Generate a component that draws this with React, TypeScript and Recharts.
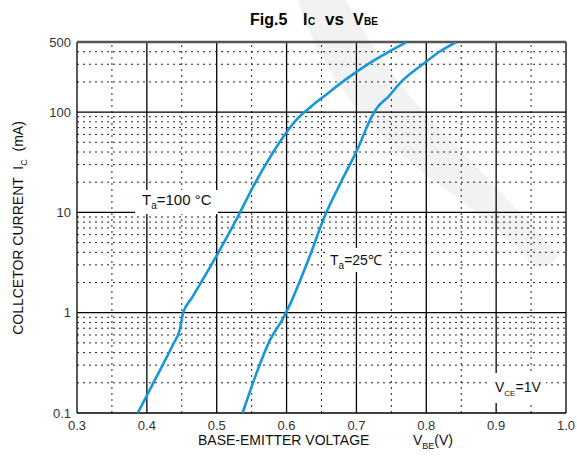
import React from "react"
import { LineChart, Line, XAxis, YAxis, ReferenceLine } from "recharts"

// Ta = 100 °C curve: [VBE (V), IC (mA)]
const ta100 = [
  { v: 0.387, i: 0.1 },
  { v: 0.414, i: 0.23 },
  { v: 0.438, i: 0.49 },
  { v: 0.447, i: 0.67 },
  { v: 0.452, i: 1.0 },
  { v: 0.464, i: 1.39 },
  { v: 0.488, i: 2.66 },
  { v: 0.529, i: 8.7 },
  { v: 0.552, i: 18 },
  { v: 0.581, i: 40 },
  { v: 0.6, i: 63 },
  { v: 0.617, i: 88 },
  { v: 0.634, i: 112 },
  { v: 0.657, i: 150 },
  { v: 0.68, i: 200 },
  { v: 0.7, i: 252 },
  { v: 0.72, i: 312 },
  { v: 0.745, i: 394 },
  { v: 0.772, i: 500 },
]

// Ta = 25 °C curve
const ta25 = [
  { v: 0.537, i: 0.1 },
  { v: 0.557, i: 0.25 },
  { v: 0.576, i: 0.53 },
  { v: 0.595, i: 0.88 },
  { v: 0.601, i: 1.06 },
  { v: 0.631, i: 3.34 },
  { v: 0.655, i: 9.3 },
  { v: 0.677, i: 19.5 },
  { v: 0.703, i: 45 },
  { v: 0.715, i: 71 },
  { v: 0.722, i: 90 },
  { v: 0.729, i: 109 },
  { v: 0.7456, i: 142 },
  { v: 0.764, i: 200 },
  { v: 0.795, i: 300 },
  { v: 0.819, i: 400 },
  { v: 0.843, i: 500 },
]

const xTicks = [0.3, 0.4, 0.5, 0.6, 0.7, 0.8, 0.9, 1.0]
const xMinor = [0.35, 0.45, 0.55, 0.65, 0.75, 0.85, 0.95]
const yTicks = [0.1, 1, 10, 100, 500]
const yMajor = [1, 10, 100]
const yMinor = [
  0.2, 0.3, 0.4, 0.5, 0.6, 0.7, 0.8, 0.9,
  2, 3, 4, 5, 6, 7, 8, 9,
  20, 30, 40, 50, 60, 70, 80, 90,
  200, 300, 400,
]

const blue = "#1697d7"
const font = '"Liberation Sans", Arial, sans-serif'

export default function App() {
  return (
    <div style={{ position: "absolute", left: 0, top: 0, width: 577, height: 457, background: "#fff", fontFamily: font }}>
      {/* faint watermark band behind the chart */}
      <svg width={577} height={457} style={{ position: "absolute", left: 0, top: 0 }}>
        <path
          d="M298,0 Q330,105 440,185 Q500,228 534,266 Q552,270 558,254 Q500,190 450,140 Q385,75 346,0 Z"
          fill="#f2f2f2"
        />
      </svg>
      <div style={{ position: "absolute", left: 0, top: 0 }}>
        <LineChart width={577} height={457} margin={{ top: 42, right: 11, bottom: 14, left: 17 }}>
          <XAxis
            type="number"
            dataKey="v"
            domain={[0.3, 1.0]}
            ticks={xTicks}
            tickFormatter={(v) => v.toFixed(1)}
            height={30}
            axisLine={false}
            tickLine={false}
            tick={{ fontSize: 13, fill: "#333", fontFamily: font }}
            allowDataOverflow
          />
          <YAxis
            type="number"
            dataKey="i"
            scale="log"
            domain={[0.1, 500]}
            ticks={yTicks}
            tickFormatter={(v) => String(v)}
            width={60}
            axisLine={false}
            tickLine={false}
            tickSize={4}
            tick={{ fontSize: 13, fill: "#333", fontFamily: font }}
            allowDataOverflow
          />
          {yMinor.map((y) => (
            <ReferenceLine key={"ym" + y} y={y} stroke="#222" strokeWidth={1} strokeDasharray="2 4" />
          ))}
          {xMinor.map((x) => (
            <ReferenceLine key={"xm" + x} x={x} stroke="#222" strokeWidth={1} strokeDasharray="2 4" />
          ))}
          {yMajor.map((y) => (
            <ReferenceLine key={"yM" + y} y={y} stroke="#000" strokeWidth={1.3} />
          ))}
          {xTicks.map((x) => (
            <ReferenceLine key={"xM" + x} x={x} stroke="#000" strokeWidth={1.3} />
          ))}
          <ReferenceLine y={0.1} stroke="#000" strokeWidth={1.5} />
          <ReferenceLine y={500} stroke="#555" strokeWidth={2.5} />
          <Line
            data={ta100}
            dataKey="i"
            type="monotone"
            stroke={blue}
            strokeWidth={2.6}
            dot={false}
            isAnimationActive={false}
          />
          <Line
            data={ta25}
            dataKey="i"
            type="monotone"
            stroke={blue}
            strokeWidth={2.6}
            dot={false}
            isAnimationActive={false}
          />
        </LineChart>
      </div>
      {/* titles and annotations */}
      <svg width={577} height={457} style={{ position: "absolute", left: 0, top: 0, pointerEvents: "none" }}>
        <g fontFamily={font} fill="#000" fontWeight="bold">
          <text x={250} y={25} fontSize={16}>Fig.5</text>
          <text x={303} y={25} fontSize={16}>I</text>
          <text x={308} y={25} fontSize={10}>C</text>
          <text x={325} y={25} fontSize={17}>vs</text>
          <text x={353} y={25} fontSize={16}>V</text>
          <text x={364} y={25} fontSize={10}>BE</text>
        </g>

        <text
          transform="translate(23,228) rotate(-90)"
          textAnchor="middle"
          fontFamily={font}
          fontSize={14}
          fill="#111"
          style={{ whiteSpace: "pre" }}
        >
          COLLCETOR CURRENT  I<tspan fontSize={9} dy={4}>C</tspan>
          <tspan dy={-4}>{"  (mA)"}</tspan>
        </text>

        <text x={198} y={445} fontFamily={font} fontSize={14} fill="#111">BASE-EMITTER VOLTAGE</text>
        <text x={413} y={445} fontFamily={font} fontSize={14} fill="#111">
          V<tspan fontSize={9} dy={4}>BE</tspan>
          <tspan dy={-4}>(V)</tspan>
        </text>

        <rect x={135} y={190} width={83} height={24} fill="#fff" />
        <text x={142} y={205} fontFamily={font} fontSize={15} fill="#111" style={{ whiteSpace: "pre" }}>
          T<tspan fontSize={10} dy={4}>a</tspan>
          <tspan dy={-4}>{"=100 °C"}</tspan>
        </text>

        <rect x={327} y={248} width={60} height={24} fill="#fff" />
        <text x={330} y={265} fontFamily={font} fontSize={14} fill="#111">
          T<tspan fontSize={10} dy={4}>a</tspan>
          <tspan dy={-4}>=25℃</tspan>
        </text>

        <rect x={491} y={373} width={55} height={30} fill="#fff" />
        <text x={495} y={392} fontFamily={font} fontSize={14} fill="#111">
          V<tspan fontSize={8} dy={4}>CE</tspan>
          <tspan dy={-4}>=1V</tspan>
        </text>
      </svg>
    </div>
  )
}
